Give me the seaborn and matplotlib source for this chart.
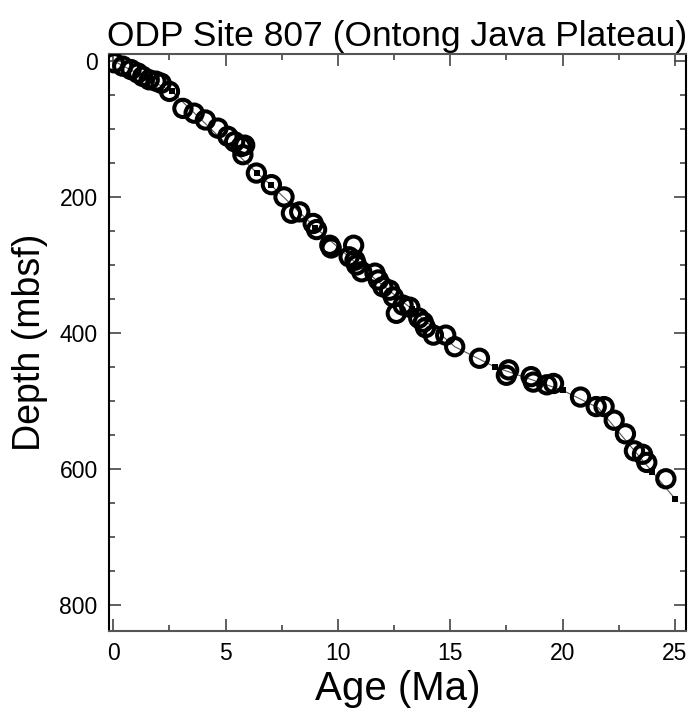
import pandas as pd
import numpy as np
import seaborn as sns
import matplotlib.pyplot as plt
from matplotlib.ticker import MultipleLocator

# picked samples (open circles)
age = [0.04, 0.42, 0.79, 1.09, 1.31, 1.6, 1.9, 2.13, 2.5, 3.1, 3.6, 4.1, 4.66, 5.1, 5.4,
       5.7, 5.85, 5.77, 6.37, 7.04, 7.6, 7.93, 8.3, 8.9, 9.05, 9.64, 9.7, 10.7, 10.5,
       10.76, 10.83, 11.06, 11.65, 11.8, 12.0, 12.3, 12.47, 12.9, 12.6, 13.2, 13.6,
       13.8, 13.9, 14.25, 14.8, 15.2, 16.3, 17.5, 17.6, 18.6, 18.7, 19.3, 19.6, 20.8,
       21.5, 21.85, 22.3, 22.8, 23.2, 23.56, 23.75, 24.6]
depth = [3, 8, 13, 18, 23, 28, 30, 33, 45, 70, 77, 87, 99, 111, 119,
         126, 124, 138, 165, 182, 200, 224, 222, 239, 248, 271, 275, 271, 288,
         293, 300, 310, 312, 322, 332, 337, 347, 359, 371, 362, 378,
         384, 392, 403, 403, 420, 437, 462, 454, 464, 472, 476, 474, 494,
         508, 508, 528, 548, 573, 578, 590, 614]

# age model: line vertices and the tie points shown as squares
model_age = [0.0, 2.6, 6.4, 7.0, 9.0, 10.9, 13.3, 15.2, 17.0, 20.0, 21.6, 23.0, 24.0, 25.0]
model_depth = [0, 45, 165, 182, 245, 300, 365, 420, 450, 484, 510, 565, 604, 643]
tie_age = [2.6, 6.4, 7.0, 9.0, 10.9, 13.3, 17.0, 20.0, 24.0, 25.0]
tie_depth = [45, 165, 182, 245, 300, 365, 450, 484, 604, 643]

df = pd.DataFrame({"age": age, "depth": depth})
model = pd.DataFrame({"age": model_age, "depth": model_depth})
ties = pd.DataFrame({"age": tie_age, "depth": tie_depth})

sns.set_style("ticks")
plt.rcParams['font.family'] = ['Liberation Sans', 'DejaVu Sans']

fig = plt.figure(figsize=(6.93, 7.19), dpi=100)
ax = fig.add_axes([0.157, 0.122, 0.833, 0.803])

sns.lineplot(data=model, x="age", y="depth", ax=ax, color="#555555", linewidth=0.8,
             sort=False, estimator=None, zorder=2)
sns.scatterplot(data=ties, x="age", y="depth", ax=ax, marker="s", s=24,
                color="black", linewidth=0, zorder=2.5)
sns.scatterplot(data=df, x="age", y="depth", ax=ax, s=155, facecolor="none",
                edgecolor="black", linewidth=2.9, zorder=3)

ax.set_xlim(-0.2, 25.5)
ax.set_ylim(838, -10)
ax.xaxis.set_major_locator(MultipleLocator(5))
ax.xaxis.set_minor_locator(MultipleLocator(2.5))
ax.yaxis.set_major_locator(MultipleLocator(200))
ax.yaxis.set_minor_locator(MultipleLocator(50))
ax.tick_params(which="both", direction="in", top=True, right=True, color="#444444",
               width=1.2, labelsize=16.5, labelcolor="black")
ax.tick_params(which="major", length=8.5, pad=8)
ax.tick_params(which="minor", length=4.3)

for s in ["left", "right"]:
    ax.spines[s].set_color("black")
    ax.spines[s].set_linewidth(1.5)
for s in ["top", "bottom"]:
    ax.spines[s].set_color("#555555")
    ax.spines[s].set_linewidth(1.5)

ax.set_xlabel("Age (Ma)", fontsize=29, color="black", labelpad=3)
ax.set_ylabel("Depth (mbsf)", fontsize=27, color="black", labelpad=8)
ax.set_title("ODP Site 807 (Ontong Java Plateau)", fontsize=25.5, color="black", pad=6)

fig.savefig("out.png", dpi=100)
